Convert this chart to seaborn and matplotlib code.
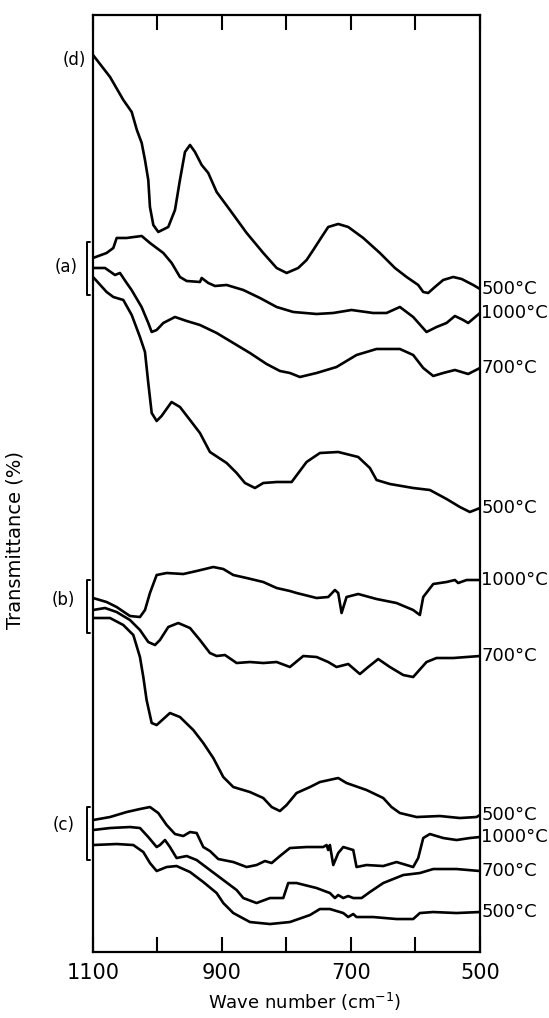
## IR spectra of the (a)/(b)/(c) gels after heat treatment, with (d) reference
import matplotlib
matplotlib.use("Agg")
import matplotlib.pyplot as plt
import matplotlib.ticker as mticker
import seaborn as sns

## Data (wave number in cm-1, transmittance in arbitrary %, curves stacked with offsets)
d_500_x = [1100, 1073.6, 1053, 1040, 1032, 1024.5, 1019.4, 1014.3, 1011.7, 1006.5, 998.8, 983.3, 972.9,
           965.2, 957.4, 949.6, 941.9, 931.5, 921.3, 908.3, 887.7, 861.8, 836, 815.3, 799.8, 781.8, 768.8,
           758.5, 745.5, 735.3, 719.8, 704.3, 681, 655.2, 631.9, 613.8, 595.8, 588, 580.3, 569.9, 557,
           541.5, 528.5, 510.5, 500]
d_500_y = [89.7, 87.5, 85.2, 84.0, 82.2, 80.9, 79.2, 77.2, 74.5, 72.7, 72.0, 72.5, 74.2,
           77.2, 80.0, 80.7, 80.0, 78.7, 77.9, 76.0, 74.2, 71.9, 69.9, 68.4, 67.9, 68.4, 69.2,
           70.2, 71.5, 72.5, 72.8, 72.5, 71.4, 69.9, 68.4, 67.5, 66.7, 66.0, 65.9, 66.5, 67.2,
           67.5, 67.3, 66.7, 66.3]

a_1000_x = [1100, 1078.9, 1068.5, 1063.3, 1047.9, 1024.5, 1011.7, 991, 978, 965.2, 954.8, 934.2, 931.5,
            921.3, 910.9, 892.8, 867, 841.2, 815.3, 789.5, 753.3, 727.5, 699.2, 665.7, 644.9, 624.2,
            603.6, 582.9, 567.3, 551.9, 538.9, 526.1, 518.3, 500]
a_1000_y = [69.4, 69.9, 70.4, 71.4, 71.4, 71.6, 70.9, 69.9, 68.9, 67.5, 67.1, 67.0, 67.4,
            66.9, 66.6, 66.7, 66.2, 65.4, 64.5, 64.0, 63.8, 63.9, 64.2, 63.9, 63.9, 64.5,
            63.5, 62.0, 62.5, 62.9, 63.6, 63.2, 62.9, 63.9]

a_700_x = [1100, 1081.4, 1065.9, 1058.2, 1047.8, 1040.2, 1024.7, 1014.3, 1009, 1001.3, 991, 972.9, 954.8,
           934.2, 908.3, 882.5, 856.7, 830.9, 810.2, 794.7, 779.2, 753.3, 722.4, 691.4, 660.4, 624.2,
           603.6, 588, 572.5, 557, 538.9, 518.3, 500]
a_700_y = [68.4, 68.4, 67.7, 67.9, 66.9, 66.2, 64.5, 62.9, 62.0, 62.2, 62.9, 63.5, 63.1,
           62.7, 61.9, 60.9, 59.9, 58.8, 58.1, 57.9, 57.5, 57.9, 58.5, 59.7, 60.3, 60.3,
           59.7, 58.4, 57.6, 57.9, 58.2, 57.8, 58.4]

a_500_x = [1100, 1078.9, 1068.5, 1053, 1040, 1027.2, 1019.4, 1014.3, 1009, 1001.3, 993.7, 978.2, 965.2,
           949.6, 934.2, 918.7, 892.8, 877.3, 864.4, 848.9, 836, 815.3, 792, 768.9, 748.2, 719.8,
           688.8, 670.7, 660.4, 639.7, 603.6, 577.7, 551.8, 531.2, 515.7, 500]
a_500_y = [67.5, 66.0, 65.5, 65.2, 63.7, 61.5, 60.0, 56.9, 53.9, 53.1, 53.6, 55.0, 54.5,
           53.2, 51.9, 50.0, 48.9, 47.9, 46.9, 46.4, 46.9, 47.0, 47.0, 49.0, 49.9, 50.0,
           49.5, 48.4, 47.2, 46.8, 46.4, 46.2, 45.3, 44.5, 44.0, 44.4]

b_1000_x = [1100, 1078.9, 1063.4, 1042.7, 1027.2, 1019.4, 1011.7, 1001.3, 985.8, 960, 939.3, 913.5, 898,
            882.5, 861.8, 836, 815.3, 794.7, 784.3, 753.3, 735.3, 724.9, 719.8, 714.6, 706.9, 688.8,
            660.4, 629.4, 603.6, 593.2, 588, 572.5, 551.8, 538.9, 533.8, 520.8, 500]
b_1000_y = [35.4, 35.0, 34.5, 33.6, 33.5, 34.2, 35.9, 37.7, 37.9, 37.8, 38.1, 38.5, 38.3,
            37.7, 37.4, 37.0, 36.4, 36.1, 35.9, 35.4, 35.5, 36.2, 35.9, 33.9, 35.5, 35.8,
            35.3, 34.9, 34.2, 33.7, 35.5, 36.8, 37.0, 37.2, 36.9, 37.2, 37.2]

b_700_x = [1100, 1081.4, 1063.4, 1042.7, 1027.2, 1014.3, 1003.9, 996.2, 983.3, 967.8, 949.6, 934.2, 918.7,
           908.3, 895.4, 877.3, 856.7, 836, 815.3, 794.7, 774, 753.3, 735.3, 722.4, 704.3, 686.2,
           673.3, 657.8, 639.7, 619, 603.6, 582.9, 567.4, 541.5, 520.8, 500]
b_700_y = [34.2, 34.4, 34.0, 33.2, 32.2, 31.0, 30.7, 31.2, 32.5, 32.9, 32.4, 31.2, 29.9,
           29.6, 29.7, 28.9, 29.0, 28.9, 29.0, 28.5, 29.6, 29.5, 29.0, 28.5, 28.8, 27.8,
           28.5, 29.3, 28.5, 27.7, 27.5, 29.0, 29.4, 29.4, 29.5, 29.6]

b_500_x = [1100, 1073.6, 1053, 1037.5, 1027.2, 1022, 1016.9, 1009, 1001.3, 980.7, 965.2, 944.5, 929,
           913.5, 898, 882.5, 856.7, 836, 823, 810.2, 799.8, 784.4, 763.6, 748.2, 719.8, 706.9,
           675.9, 650, 637.2, 624.2, 598.4, 562.2, 531.2, 505.4, 500]
b_500_y = [33.4, 33.4, 32.7, 31.7, 29.5, 27.5, 25.2, 22.9, 22.7, 23.9, 23.5, 22.2, 20.9,
           19.4, 17.5, 16.5, 16.0, 15.4, 14.5, 14.1, 14.7, 15.9, 16.5, 17.0, 17.4, 16.9,
           16.2, 15.4, 14.5, 13.9, 13.5, 13.6, 13.4, 13.5, 13.7]

c_1000_x = [1100, 1073.6, 1047.8, 1027.2, 1011.7, 998.8, 985.8, 972.9, 960, 949.6, 939.3, 929, 918.7,
            905.8, 882.5, 861.8, 846.4, 833.4, 823, 810.2, 794.7, 768.8, 743, 737.9, 735.3, 732.7,
            727.5, 719.8, 712, 696.5, 691.4, 675.9, 650, 629.4, 603.6, 595.8, 588, 577.7, 557,
            536.3, 515.7, 500]
c_1000_y = [13.2, 13.5, 14.0, 14.3, 14.5, 13.9, 12.7, 11.8, 11.6, 12.0, 11.9, 10.5, 10.1,
            9.3, 9.0, 8.5, 8.7, 9.1, 8.9, 9.6, 10.4, 10.5, 10.5, 10.7, 10.2, 10.7,
            8.7, 9.9, 10.5, 10.2, 8.5, 8.7, 8.6, 9.0, 8.5, 9.4, 11.4, 11.8, 11.4,
            11.2, 11.4, 11.5]

c_700_x = [1100, 1073.6, 1042.7, 1027.2, 1014.3, 1001.3, 996.2, 988.4, 980.7, 970.4, 954.8, 939.3, 918.7,
           898, 877.3, 867, 846.4, 825.7, 805, 797.3, 784.4, 753.4, 732.7, 724.9, 719.8, 712,
           704.3, 696.5, 683.6, 670.7, 650, 619, 593.2, 572.5, 536.4, 500]
c_700_y = [12.2, 12.4, 12.5, 12.4, 11.5, 10.5, 10.7, 11.2, 10.5, 9.4, 9.6, 9.2, 8.2,
           7.2, 6.2, 5.4, 4.9, 5.4, 5.4, 6.9, 6.9, 6.4, 5.9, 5.4, 5.7, 5.4,
           5.6, 5.4, 5.4, 6.0, 6.9, 7.7, 7.9, 8.3, 8.3, 8.1]

c_500_x = [1100, 1063.3, 1037.5, 1022, 1011.7, 1001.3, 985.9, 970.4, 949.6, 929, 908.3, 898, 882.5,
           856.7, 825.7, 794.7, 763.6, 748.2, 732.7, 712, 704.3, 696.5, 691.4, 665.6, 629.4, 603.6,
           593.2, 572.5, 536.4, 500]
c_500_y = [10.7, 10.8, 10.7, 10.0, 8.9, 8.1, 8.5, 8.6, 8.0, 7.0, 5.9, 4.9, 3.9,
           3.0, 2.8, 3.0, 3.7, 4.3, 4.3, 3.9, 3.5, 3.8, 3.5, 3.5, 3.3, 3.3,
           3.9, 4.0, 3.9, 4.0]

curves = [(d_500_x, d_500_y, '500°C'),
          (a_1000_x, a_1000_y, '1000°C'), (a_700_x, a_700_y, '700°C'), (a_500_x, a_500_y, '500°C'),
          (b_1000_x, b_1000_y, '1000°C'), (b_700_x, b_700_y, '700°C'), (b_500_x, b_500_y, '500°C'),
          (c_1000_x, c_1000_y, '1000°C'), (c_700_x, c_700_y, '700°C'), (c_500_x, c_500_y, '500°C')]

group_names = ['(d)', '(a)', '(b)', '(c)']
group_label_pos = [(1129, 89.2), (1142, 68.5), (1146, 35.2), (1146, 12.7)]
group_brackets = [None, (71.0, 65.7), (37.2, 31.9), (14.5, 9.2)]

tick_values = [1100, 1000, 900, 800, 700, 600, 500]
tick_labels = ['1100', '', '900', '', '700', '', '500']

## Plot
sns.set_style("white")
plt.rcParams['font.family'] = ['DejaVu Sans']
plt.rcParams['text.color'] = 'black'
plt.rcParams['axes.labelcolor'] = 'black'
plt.rcParams['xtick.color'] = 'black'

fig = plt.figure(figsize=(5.49, 10.18), dpi=100)
ax = fig.add_axes([0.1694, 0.0648, 0.7049, 0.9205])

for xs, ys, lab in curves:
    sns.lineplot(x=xs, y=ys, color='black', linewidth=1.9, ax=ax)
    ax.annotate(lab, xy=(xs[-1], ys[-1]), xytext=(1, 0), textcoords='offset points',
                ha='left', va='center', fontsize=13, annotation_clip=False)

for name, (lx, ly), br in zip(group_names, group_label_pos, group_brackets):
    ax.text(lx, ly, name, ha='center', va='center', fontsize=12, clip_on=False)
    if br is not None:
        ax.plot([1105, 1109.5, 1109.5, 1105], [br[0], br[0], br[1], br[1]],
                color='black', linewidth=1.4, clip_on=False)

ax.set_xlim(1100, 500)
ax.set_ylim(0, 93.7)

ax.xaxis.set_major_locator(mticker.FixedLocator(tick_values))
ax.xaxis.set_major_formatter(mticker.FixedFormatter(tick_labels))
ax.tick_params(axis='x', which='major', direction='in', top=True, bottom=True,
               length=11, width=1.5, pad=8, labelsize=15, color='black')
ax.set_yticks([])

for side in ['left', 'right', 'top', 'bottom']:
    ax.spines[side].set_visible(True)
    ax.spines[side].set_color('black')
    ax.spines[side].set_linewidth(1.6)

ax.set_xlabel('Wave number (cm$^{-1}$)', fontsize=13)
ax.xaxis.set_label_coords(0.548, -0.042)
ax.set_ylabel('Transmittance (%)', fontsize=14)
ax.yaxis.set_label_coords(-0.176, 0.44)

fig.savefig('out.png', dpi=100)
